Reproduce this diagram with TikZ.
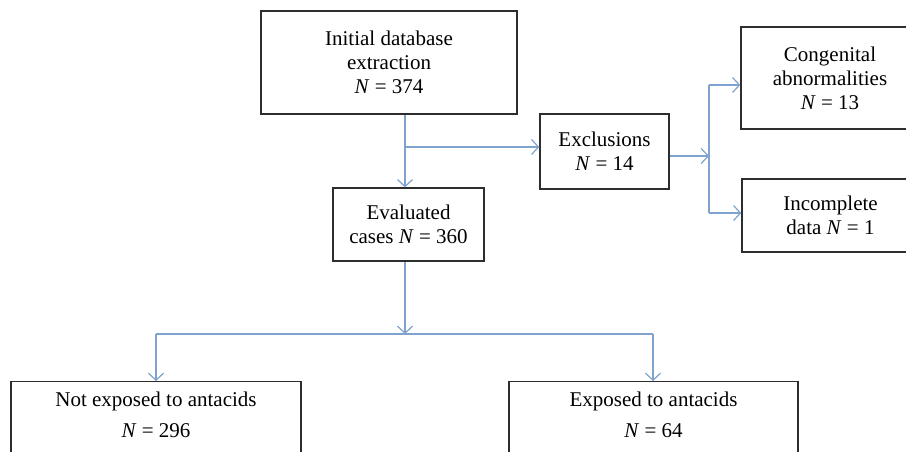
\documentclass[tikz,border=0pt]{standalone}
\usepackage{fontspec}
\setmainfont{Liberation Serif}
\usetikzlibrary{arrows.meta}
\definecolor{conn}{RGB}{128,162,206}
\definecolor{boxline}{RGB}{45,45,45}
\tikzset{
  box/.style={draw=boxline, line width=1.3pt, align=center, inner sep=0pt,
    font=\fontsize{21}{24}\selectfont},
  bigbox/.style={box, anchor=north, text depth=80pt, inner ysep=10pt},
  conline/.style={draw=conn, line width=1.3pt},
  arr/.style={conline, -{Straight Barb[length=7pt,width=15pt,line width=1.2pt]}}
}
\begin{document}
\begin{tikzpicture}[x=1pt,y=-1pt]
\useasboundingbox (0,0) rectangle (906,451);
\clip (0,0) rectangle (906,451);
\fill[white] (0,0) rectangle (906,451);

\node[box, minimum width=256pt, minimum height=103pt] (init) at (389,62.5)
  {Initial database\\extraction\\\textit{N} = 374};
\node[box, minimum width=129pt, minimum height=75pt] (excl) at (604.5,151.5)
  {Exclusions\\\textit{N} = 14};
\node[box, minimum width=151pt, minimum height=73pt] (eval) at (408.5,224.5)
  {Evaluated\\cases \textit{N} = 360};
\node[box, minimum width=178pt, minimum height=102pt] (cong) at (830,78)
  {Congenital\\abnormalities\\\textit{N} = 13};
\node[box, minimum width=177pt, minimum height=73pt] (inc) at (830.5,215.5)
  {Incomplete\\data \textit{N} = 1};
\node[bigbox, minimum width=290pt] (notexp) at (156,381)
  {Not exposed to antacids\\[7pt]\textit{N} = 296};
\node[bigbox, minimum width=289pt] (exp) at (653.5,381)
  {Exposed to antacids\\[7pt]\textit{N} = 64};

\coordinate (j1) at (405,147);
\coordinate (j2) at (709,156);
\coordinate (j2t) at (709,85);
\coordinate (j2b) at (709,213);
\coordinate (j3) at (405,334);
\coordinate (j3l) at (156,334);
\coordinate (j3r) at (653,334);

\draw[arr] (init.south -| j1) -- (eval.north -| j1);
\draw[arr] (j1) -- (j1 -| excl.west);
\draw[arr] (j2 -| excl.east) -- (j2);
\draw[conline] (j2t) -- (j2b);
\draw[arr] (j2t) -- (j2t -| cong.west);
\draw[arr] (j2b) -- (j2b -| inc.west);
\draw[arr] (eval.south -| j3) -- (j3);
\draw[conline] (j3l) -- (j3r);
\draw[arr] (j3l) -- (j3l |- notexp.north);
\draw[arr] (j3r) -- (j3r |- exp.north);
\end{tikzpicture}
\end{document}
